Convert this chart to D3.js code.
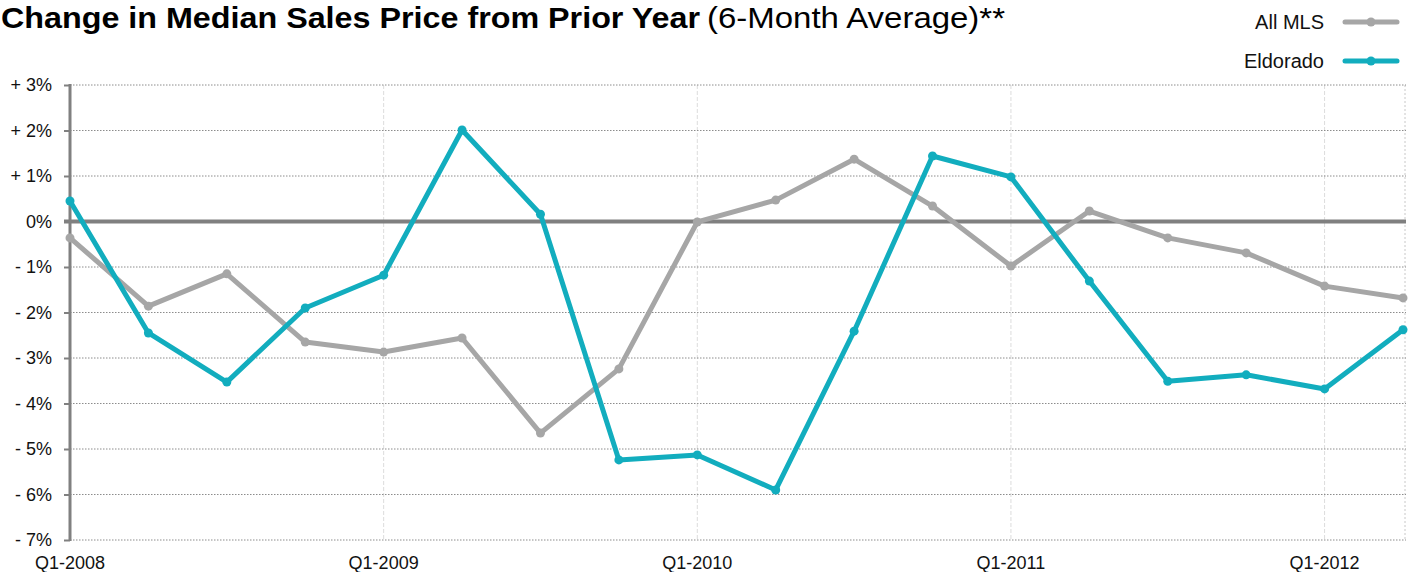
<!DOCTYPE html>
<html>
<head>
<meta charset="utf-8">
<script src="https://cdn.jsdelivr.net/npm/d3@7"></script>
<style>
  body { margin: 0; background: #fff; }
  svg text { font-family: "Liberation Sans", Arial, sans-serif; fill: #111; }
</style>
</head>
<body>
<div id="chart"></div>
<script>
// ----- Data -------
const quarters = ["Q1-2008", "Q2-2008", "Q3-2008", "Q4-2008",
  "Q1-2009", "Q2-2009", "Q3-2009", "Q4-2009",
  "Q1-2010", "Q2-2010", "Q3-2010", "Q4-2010",
  "Q1-2011", "Q2-2011", "Q3-2011", "Q4-2011",
  "Q1-2012", "Q2-2012"];
const allMls = [-0.36, -1.86, -1.15, -2.65, -2.87, -2.56, -4.65, -3.24,
  -0.01, 0.47, 1.37, 0.34, -0.98, 0.23, -0.36, -0.69, -1.42, -1.68];
const eldorado = [0.45, -2.45, -3.53, -1.90, -1.18, 2.01, 0.16, -5.24,
  -5.13, -5.90, -2.41, 1.44, 0.98, -1.31, -3.51, -3.37, -3.68, -2.38];
const yTicks = [3, 2, 1, 0, -1, -2, -3, -4, -5, -6, -7];
const xLabels = ["Q1-2008", "Q1-2009", "Q1-2010", "Q1-2011", "Q1-2012"];

const grey = "#a6a6a6";
const teal = "#12adbe";

const svg = d3.select("#chart").append("svg").attr("width", 1408).attr("height", 572);

const x = d3.scalePoint().domain(quarters).range([70, 1403]);
const y = d3.scaleLinear().domain([-7, 3]).range([540, 85]);

// ----- Title (condensed look via textLength) -------
svg.append("text")
  .attr("x", 1)
  .attr("y", 28)
  .attr("font-weight", "bold")
  .attr("textLength", 699)
  .attr("lengthAdjust", "spacingAndGlyphs")
  .style("font-size", "30px")
  .style("fill", "#000")
  .text("Change in Median Sales Price from Prior Year");

svg.append("text")
  .attr("x", 707)
  .attr("y", 28)
  .attr("textLength", 298)
  .attr("lengthAdjust", "spacingAndGlyphs")
  .style("font-size", "30px")
  .style("fill", "#000")
  .text("(6-Month Average)**");

// ----- Grid -------
svg.append("g").selectAll("line")
  .data(xLabels)
  .join("line")
  .attr("x1", d => x(d)).attr("x2", d => x(d))
  .attr("y1", y(3)).attr("y2", y(-7))
  .attr("stroke", "#dcdcdc")
  .attr("stroke-dasharray", "4,2");

svg.append("line")
  .attr("x1", 1405).attr("x2", 1405)
  .attr("y1", y(3)).attr("y2", y(-7))
  .attr("stroke", "#c8c8c8")
  .attr("stroke-dasharray", "2,2");

svg.append("g").selectAll("line")
  .data(yTicks.filter(d => d !== 0))
  .join("line")
  .attr("x1", 70).attr("x2", 1406)
  .attr("y1", d => y(d)).attr("y2", d => y(d))
  .attr("stroke", "#8c8c8c")
  .attr("stroke-dasharray", "1.5,1.5")
  .attr("stroke-width", 1);

// ----- Axes -------
const yAxis = svg.append("g")
  .attr("transform", "translate(70,0)")
  .call(d3.axisLeft(y).tickValues(yTicks).tickSize(6).tickPadding(12)
    .tickFormat(d => d > 0 ? "+ " + d + "%" : d < 0 ? "- " + Math.abs(d) + "%" : "0%"));
yAxis.select(".domain").remove();
yAxis.selectAll(".tick line").attr("stroke", "#808080").attr("stroke-width", 2);
yAxis.selectAll(".tick text")
  .attr("font-family", "Liberation Sans, Arial, sans-serif")
  .style("font-size", "18px").attr("fill", "#111");

svg.append("line")
  .attr("x1", 70).attr("x2", 70)
  .attr("y1", y(3) - 1).attr("y2", y(-7) + 1)
  .attr("stroke", "#808080")
  .attr("stroke-width", 3);

svg.append("line")
  .attr("x1", 64).attr("x2", 1406)
  .attr("y1", y(0)).attr("y2", y(0))
  .attr("stroke", "#808080")
  .attr("stroke-width", 4);

svg.append("g").selectAll("text")
  .data(xLabels)
  .join("text")
  .attr("x", d => x(d))
  .attr("y", 569)
  .attr("text-anchor", "middle")
  .style("font-size", "18px")
  .text(d => d);

// ----- Series -------
const series = [
  { name: "All MLS", values: allMls, color: grey },
  { name: "Eldorado", values: eldorado, color: teal }
];

const line = d3.line().x((d, i) => x(quarters[i])).y(d => y(d));

series.forEach(s => {
  svg.append("path")
    .datum(s.values)
    .attr("d", line)
    .attr("fill", "none")
    .attr("stroke", s.color)
    .attr("stroke-width", 5)
    .attr("stroke-linejoin", "round");
  svg.append("g").selectAll("circle")
    .data(s.values)
    .join("circle")
    .attr("cx", (d, i) => x(quarters[i]))
    .attr("cy", d => y(d))
    .attr("r", 4.5)
    .attr("fill", s.color);
});

// ----- Legend -------
const legend = svg.append("g").selectAll("g")
  .data(series)
  .join("g")
  .attr("transform", (d, i) => `translate(0,${22 + i * 39})`);
legend.append("text")
  .attr("x", 1324)
  .attr("y", 7)
  .attr("text-anchor", "end")
  .style("font-size", "20px")
  .text(d => d.name);
legend.append("line")
  .attr("x1", 1345).attr("x2", 1397)
  .attr("stroke", d => d.color)
  .attr("stroke-width", 5)
  .attr("stroke-linecap", "round");
legend.append("circle")
  .attr("cx", 1371)
  .attr("r", 4.5)
  .attr("fill", d => d.color);
</script>
</body>
</html>
